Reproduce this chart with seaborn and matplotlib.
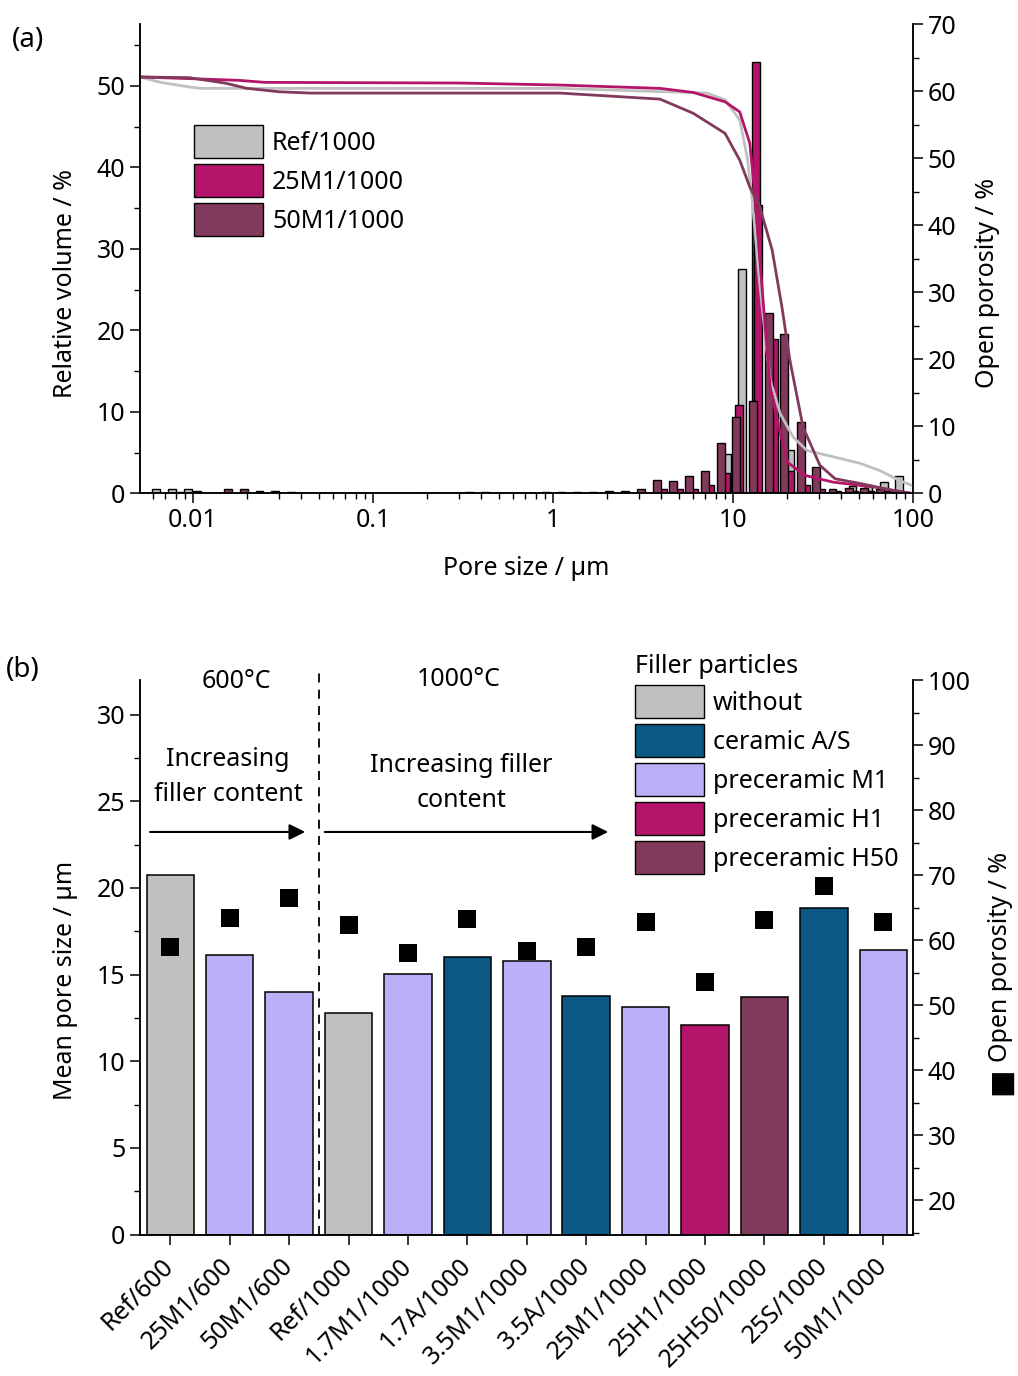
import numpy as np
import pandas as pd
import matplotlib
matplotlib.use('Agg')
import matplotlib.pyplot as plt
import seaborn as sns
from matplotlib.patches import Patch
from matplotlib.ticker import MultipleLocator, FuncFormatter, FixedLocator

# ---------------- Panel (a) data ----------------
# Pore-size distribution bars (pore size in um, relative volume in %)
ref_bar_size = [0.00623, 0.00764, 0.00938, 9.31, 11.2, 20.7, 46.1, 56.6, 69.0, 83.6]
ref_bar_vol = [0.5, 0.5, 0.5, 4.9, 27.6, 5.3, 0.9, 1.0, 1.4, 2.1]

m25_bar_size = [4.08, 5.01, 6.11, 7.5, 9.14, 10.86, 13.4, 13.7, 17.0, 20.7, 25.5, 31.0,
                38.0, 47.0, 58.0, 72.0]
m25_bar_vol = [0.5, 0.55, 0.55, 1.1, 2.5, 10.9, 52.9, 35.4, 19.0, 2.8, 1.0, 0.5,
               0.3, 0.3, 0.3, 0.3]

m50_bar_size = [0.00848, 0.0105, 0.0157, 0.0191, 0.0234, 0.0287, 0.0352, 0.18, 0.22,
                0.34, 0.42, 0.74, 0.91, 1.11, 1.36, 1.67, 2.05, 2.51, 3.08, 3.78, 4.64,
                5.70, 6.99, 8.58, 10.4, 12.9, 15.8, 19.3, 23.9, 28.9, 35.7, 43.9, 53.5,
                65.9, 80.5]
m50_bar_vol = [0.2, 0.3, 0.6, 0.6, 0.3, 0.3, 0.2, 0.1, 0.1, 0.15, 0.2, 0.1, 0.15, 0.15,
               0.2, 0.2, 0.25, 0.3, 0.5, 1.6, 1.5, 2.1, 2.7, 6.2, 9.4, 11.4, 22.2, 19.6,
               8.8, 3.2, 0.6, 0.7, 0.7, 0.6, 0.3]

# Cumulative open porosity curves (pore size in um, open porosity in %)
ref_cum_size = [0.00508, 0.0066, 0.0096, 0.011, 0.1, 1.09, 7.17, 9.03, 10.9, 12.0, 12.8,
                13.8, 15.1, 16.1, 18.3, 21.6, 25.8, 33.3, 50.8, 65.6, 84.7, 98.7]
ref_cum_por = [62.1, 61.3, 60.6, 60.4, 60.4, 60.4, 59.7, 58.7, 55.7, 50.1, 43.7,
               33.7, 23.3, 16.9, 11.9, 8.4, 6.4, 5.7, 4.5, 3.4, 1.9, 1.2]

m25_cum_size = [0.00508, 0.011, 0.018, 0.025, 0.3, 1.09, 3.93, 6.0, 9.03, 10.9, 12.4,
                13.2, 14.1, 15.1, 16.1, 18.3, 20.2, 25.1, 35.9, 63.1, 98.7]
m25_cum_por = [62.1, 61.8, 61.6, 61.3, 61.2, 60.9, 60.4, 59.8, 58.4, 56.9, 52.2,
               44.8, 34.8, 24.8, 15.8, 9.0, 4.6, 2.7, 1.7, 0.9, 0.0]

m50_cum_size = [0.00508, 0.0095, 0.015, 0.02, 0.03, 0.045, 1.09, 3.93, 6.0, 9.03, 10.9,
                12.4, 14.1, 16.5, 18.7, 20.7, 24.5, 30.4, 36.9, 50.8, 77.4, 98.7]
m50_cum_por = [62.1, 62.0, 61.2, 60.4, 59.9, 59.7, 59.7, 58.8, 56.7, 53.7, 49.7,
               45.7, 42.7, 36.3, 27.8, 19.9, 9.9, 4.2, 2.2, 1.5, 0.45, 0.0]

series_a = ['Ref/1000', '25M1/1000', '50M1/1000']

# ---------------- Panel (b) data ----------------
samples = ['Ref/600', '25M1/600', '50M1/600', 'Ref/1000', '1.7M1/1000', '1.7A/1000',
           '3.5M1/1000', '3.5A/1000', '25M1/1000', '25H1/1000', '25H50/1000',
           '25S/1000', '50M1/1000']
fillers = ['without', 'preceramic M1', 'preceramic M1', 'without', 'preceramic M1',
           'ceramic A/S', 'preceramic M1', 'ceramic A/S', 'preceramic M1',
           'preceramic H1', 'preceramic H50', 'ceramic A/S', 'preceramic M1']
mean_pore = [20.74, 16.11, 13.98, 12.76, 15.03, 16.01, 15.80, 13.78, 13.14, 12.07,
             13.72, 18.82, 16.43]
open_por = [58.9, 63.4, 66.5, 62.3, 58.0, 63.2, 58.3, 59.0, 62.7, 53.6, 63.1, 68.3, 62.8]
filler_order = ['without', 'ceramic A/S', 'preceramic M1', 'preceramic H1', 'preceramic H50']

# ---------------- Styles ----------------
C_GREY = '#c0c0c0'
C_PINK = '#b41469'
C_PLUM = '#823a5c'
C_BLUE = '#0b5884'
C_LAV = '#b9b0f7'
filler_colors = {'without': C_GREY, 'ceramic A/S': C_BLUE, 'preceramic M1': C_LAV,
                 'preceramic H1': C_PINK, 'preceramic H50': C_PLUM}

sns.set_theme(style='ticks')
plt.rcParams['font.family'] = ['Noto Sans', 'DejaVu Sans']
plt.rcParams.update({
    'font.size': 18, 'axes.linewidth': 1.1, 'axes.labelsize': 18,
    'legend.fontsize': 18, 'legend.title_fontsize': 18,
    'xtick.labelsize': 18, 'ytick.labelsize': 18,
    'xtick.major.size': 7, 'ytick.major.size': 7,
    'xtick.minor.size': 4, 'ytick.minor.size': 4,
    'xtick.major.width': 1.1, 'ytick.major.width': 1.1,
    'xtick.minor.width': 1.0, 'ytick.minor.width': 1.0,
    'xtick.color': 'black', 'ytick.color': 'black',
    'axes.edgecolor': 'black', 'text.color': 'black', 'axes.labelcolor': 'black',
})

W, H = 1018, 1376
fig = plt.figure(figsize=(W / 100, H / 100), dpi=100)

def fx(px):
    return px / W

def fy(py):
    return 1 - py / H

# ---------------- Panel (a) ----------------
axA = fig.add_axes([fx(140), fy(493.5), fx(913) - fx(140), fy(24) - fy(493.5)])
axA.set_xscale('log')

def log_bars(ax, sizes, vals, color, w=0.044):
    s = np.asarray(sizes, dtype=float)
    f = 10 ** (w / 2)
    ax.bar(s / f, vals, width=s * f - s / f, align='edge', color=color,
           edgecolor='black', linewidth=1.0, zorder=2)

log_bars(axA, ref_bar_size, ref_bar_vol, C_GREY)
log_bars(axA, m25_bar_size, m25_bar_vol, C_PINK)
log_bars(axA, m50_bar_size, m50_bar_vol, C_PLUM)

axA.set_ylim(0, 57.6)
axA.yaxis.set_major_locator(FixedLocator([0, 10, 20, 30, 40, 50]))
axA.yaxis.set_minor_locator(FixedLocator([5, 15, 25, 35, 45, 55]))
axA.xaxis.set_major_locator(FixedLocator([0.01, 0.1, 1, 10, 100]))
axA.xaxis.set_major_formatter(FuncFormatter(lambda v, _: f'{v:g}'))
axA.spines['top'].set_visible(False)
axA.tick_params(axis='both', which='both', direction='out')

axA2 = axA.twinx()
curve_df = pd.concat([
    pd.DataFrame({'size': ref_cum_size, 'por': ref_cum_por, 'sample': series_a[0]}),
    pd.DataFrame({'size': m25_cum_size, 'por': m25_cum_por, 'sample': series_a[1]}),
    pd.DataFrame({'size': m50_cum_size, 'por': m50_cum_por, 'sample': series_a[2]}),
])
sns.lineplot(data=curve_df, x='size', y='por', hue='sample', hue_order=series_a,
             palette=[C_GREY, C_PINK, C_PLUM], sort=False, estimator=None,
             linewidth=2.0, legend=False, ax=axA2)
axA2.set_ylim(0, 70)
axA2.yaxis.set_major_locator(MultipleLocator(10))
axA2.yaxis.set_minor_locator(MultipleLocator(5))
axA2.spines['top'].set_visible(False)
axA2.tick_params(axis='y', which='both', direction='out')
axA.set_xlim(0.005076, 100)

axA.set_xlabel('Pore size / µm')
axA.xaxis.set_label_coords(0.5, -0.134)
axA.set_ylabel('Relative volume / %')
axA.yaxis.set_label_coords(-0.080, 0.448)
axA2.set_xlabel('')
axA2.set_ylabel('Open porosity / %')
axA2.yaxis.set_label_coords(1.080, 0.448)

leg_kw = dict(frameon=False, borderpad=0, borderaxespad=0, handlelength=2.76,
              handleheight=1.654, handletextpad=0.36, labelspacing=0.24, fontsize=18)
handles_a = [Patch(facecolor=c, edgecolor='black', linewidth=1.0) for c in (C_GREY, C_PINK, C_PLUM)]
fig.legend(handles_a, series_a, loc='upper left', bbox_to_anchor=(fx(194), fy(125)), **leg_kw)

# ---------------- Panel (b) ----------------
axB = fig.add_axes([fx(140), fy(1234.5), fx(913) - fx(140), fy(680) - fy(1234.5)])
df_b = pd.DataFrame({'sample': samples, 'filler': fillers, 'mean': mean_pore, 'por': open_por})
sns.barplot(data=df_b, x='sample', y='mean', hue='filler', order=samples,
            hue_order=filler_order, palette=filler_colors, dodge=False, width=0.8,
            saturation=1, errorbar=None, edgecolor='black', linewidth=1.1,
            legend=False, ax=axB)
axB.set_ylim(0, 32)
axB.yaxis.set_major_locator(MultipleLocator(5))
axB.yaxis.set_minor_locator(MultipleLocator(2.5))
axB.set_xticks(range(len(samples)))
axB.set_xticklabels(samples, rotation=45, ha='right', va='center', rotation_mode='anchor')
axB.spines['top'].set_visible(False)
axB.tick_params(axis='both', which='both', direction='out')
axB.tick_params(axis='x', pad=13)
axB.set_xlabel('')
axB.set_ylabel('Mean pore size / µm')
axB.yaxis.set_label_coords(-0.080, 0.459)

axB.axvline(2.5, ymin=0, ymax=1.015, color='black', linestyle=(0, (5, 4)),
            linewidth=1.3, clip_on=False)
axB.text(1.12, 31.9, '600°C', ha='center', va='center')
axB.text(4.86, 32.0, '1000°C', ha='center', va='center')
axB.text(0.97, 26.4, 'Increasing\nfiller content', ha='center', va='center', linespacing=1.55)
axB.text(4.9, 26.05, 'Increasing filler\ncontent', ha='center', va='center', linespacing=1.55)
arrow_kw = dict(arrowstyle='-|>', color='black', lw=1.5, mutation_scale=24,
                shrinkA=0, shrinkB=0)
axB.annotate('', xy=(2.27, 23.23), xytext=(-0.34, 23.23), arrowprops=arrow_kw)
axB.annotate('', xy=(7.37, 23.23), xytext=(2.6, 23.23), arrowprops=arrow_kw)

axB2 = axB.twinx()
sns.scatterplot(x=np.arange(len(samples)), y=open_por, marker='s', s=150, color='black',
                linewidth=0, legend=False, ax=axB2, zorder=5)
axB2.set_ylim(14.7, 100)
axB2.yaxis.set_major_locator(MultipleLocator(10))
axB2.yaxis.set_minor_locator(MultipleLocator(5))
axB2.spines['top'].set_visible(False)
axB2.tick_params(axis='y', which='both', direction='out')
axB2.set_xlabel('')
axB2.set_ylabel('Open porosity / %')
axB2.yaxis.set_label_coords(1.097, 0.50)
axB.set_xlim(-0.51, 12.5)

fig.text(fx(1001), fy(1081), '■', rotation=90, ha='center', va='center', fontsize=21,
         family='DejaVu Sans')

handles_b = [Patch(facecolor=filler_colors[f], edgecolor='black', linewidth=1.0)
             for f in filler_order]
fig.legend(handles_b, filler_order, loc='upper left', bbox_to_anchor=(fx(635), fy(654)),
           title='Filler particles', title_fontsize=18, alignment='left', **leg_kw)

fig.text(fx(12), fy(40), '(a)', ha='left', va='center', fontsize=20)
fig.text(fx(6), fy(670), '(b)', ha='left', va='center', fontsize=20)

fig.savefig('out.png', dpi=100)
